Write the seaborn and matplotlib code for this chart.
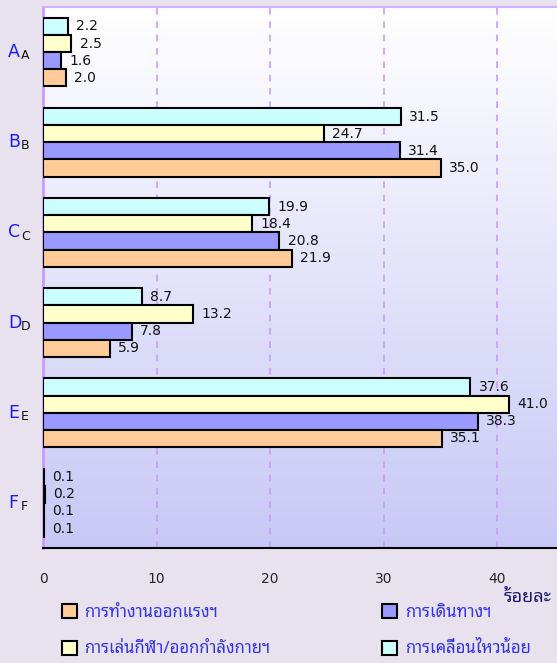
import numpy as np
import pandas as pd
import matplotlib
matplotlib.use("Agg")
import matplotlib.pyplot as plt
import matplotlib.transforms as mtransforms
from matplotlib.patches import Patch
import seaborn as sns

sns.set_style("white")
plt.rcParams["font.family"] = ["DejaVu Sans"]
THAI = ["Noto Sans Thai Looped", "DejaVu Sans"]

categories = ["A", "B", "C", "D", "E", "F"]
series = ["การเคลื่อนไหวน้อย", "การเล่นกีฬา/ออกกำลังกายฯ", "การเดินทางฯ", "การทำงานออกแรงฯ"]
sedentary = [2.2, 31.5, 19.9, 8.7, 37.6, 0.1]
sport = [2.5, 24.7, 18.4, 13.2, 41.0, 0.2]
travel = [1.6, 31.4, 20.8, 7.8, 38.3, 0.1]
work = [2.0, 35.0, 21.9, 5.9, 35.1, 0.1]
colors = ["#CCFFFF", "#FFFFCC", "#9999FF", "#FFCC99"]
xticks = [0, 10, 20, 30, 40]

df = pd.DataFrame({
    "cat": categories * 4,
    "series": sum([[s] * 6 for s in series], []),
    "value": sedentary + sport + travel + work,
})

fig = plt.figure(figsize=(5.57, 6.63), dpi=100, facecolor="#E8E2EE")
ax = fig.add_axes([43 / 557, 1 - 548 / 663, 568 / 557, 541 / 663])

# gradient plot area
grad = np.linspace(0, 1, 256).reshape(-1, 1)
top = np.array([1.0, 1.0, 1.0])
bot = np.array([0xC8, 0xC8, 0xF6]) / 255
img = top + (bot - top) * grad[..., None]
ax.imshow(img.reshape(256, 1, 3), extent=[0, 1, 0, 1], transform=ax.transAxes,
          aspect="auto", zorder=0, origin="upper")

sns.barplot(data=df, x="value", y="cat", hue="series", hue_order=series,
            palette=colors, orient="h", width=0.76, gap=0, dodge=True,
            edgecolor="black", linewidth=1.5, saturation=1, legend=False,
            ax=ax, zorder=3)

for c in ax.containers:
    ax.bar_label(c, fmt="%.1f", padding=6, fontsize=10, color="#111111")

ax.set_xlim(0, 50)
ax.set_ylim(5.5, -0.5)
ax.set_xticks(xticks)
ax.set_xticklabels([str(v) for v in xticks], fontsize=10)
ax.tick_params(axis="x", direction="out", length=6, width=1.5, color="black", pad=11)
ax.set_yticks(np.arange(-0.5, 6, 1))
ax.set_yticklabels([])
ax.tick_params(axis="y", direction="out", length=6, width=1.5, color="#CC99FF")
ax.set_xlabel("")
ax.set_ylabel("")
for x in xticks[1:]:
    ax.axvline(x, color="#CC99FF", lw=1.2, ls=(0, (4, 4)), zorder=1)

ax.spines["left"].set_color("#CC99FF")
ax.spines["left"].set_linewidth(2)
ax.spines["top"].set_color("#D4B0F8")
ax.spines["top"].set_linewidth(1.5)
ax.spines["bottom"].set_color("black")
ax.spines["bottom"].set_linewidth(1.5)
ax.spines["right"].set_visible(False)

tr = mtransforms.blended_transform_factory(fig.transFigure, ax.transData)
for i, c in enumerate(categories):
    ax.text(8 / 557, i, c, transform=tr, color="#1A1AFF", fontsize=12.5,
            ha="left", va="center")
    ax.text(21 / 557, i + 0.04, c, transform=tr, color="#111111", fontsize=9,
            ha="left", va="center")

fig.text(504 / 557, 1 - 597 / 663, "ร้อยละ", family=THAI, fontsize=13,
         fontweight="bold", color="#1A1A70", ha="left", va="center")

handles = [Patch(facecolor=colors[3], edgecolor="black", linewidth=1.5),
           Patch(facecolor=colors[1], edgecolor="black", linewidth=1.5),
           Patch(facecolor=colors[2], edgecolor="black", linewidth=1.5),
           Patch(facecolor=colors[0], edgecolor="black", linewidth=1.5)]
labels = [series[3], series[1], series[2], series[0]]
leg = fig.legend(handles, labels, ncol=2, loc="upper left",
                 bbox_to_anchor=(47 / 557, 1 - 589 / 663), frameon=False,
                 prop={"family": THAI, "size": 12}, handlelength=0.9,
                 handleheight=0.9, handletextpad=0.45, columnspacing=6.7,
                 labelspacing=1.2)
for t in leg.get_texts():
    t.set_color("#3333EE")

fig.savefig("out.png", dpi=100, facecolor=fig.get_facecolor())
